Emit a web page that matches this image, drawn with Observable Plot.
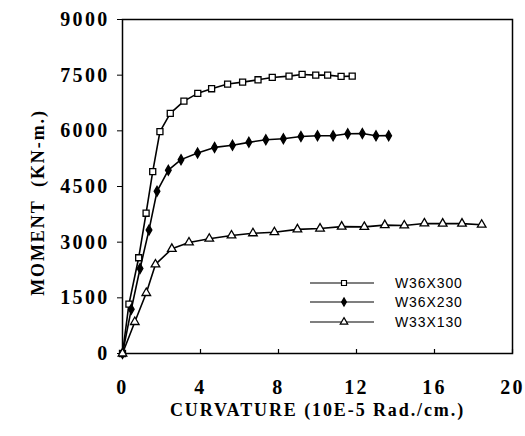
<!DOCTYPE html>
<html>
<head>
<meta charset="utf-8">
<script src="https://cdn.jsdelivr.net/npm/d3@7"></script>
<script src="https://cdn.jsdelivr.net/npm/@observablehq/plot@0.6"></script>
<style>
  body { margin: 0; background: #fff; }
  #wrap { position: relative; width: 525px; height: 436px; }
  #wrap svg text { font-family: "Liberation Serif", "Times New Roman", serif; font-weight: bold; fill: #000; }
  g[aria-label="x-axis tick label"] text,
  g[aria-label="y-axis tick label"] text { font-size: 20px; letter-spacing: 2.3px; }
  .axis-title text { font-size: 18px; letter-spacing: 1.9px; }
  #legend { position: absolute; left: 0; top: 0; pointer-events: none; }
  #legend text { font-family: "Liberation Sans", Arial, sans-serif !important; font-weight: normal !important; font-size: 14px; letter-spacing: 0.9px; }
</style>
</head>
<body>
<div id="wrap"></div>
<script>
// Moment–curvature curves for three W-shape sections
const sections = ["W36X300", "W36X230", "W33X130"];

const curvatureW36X300 = [0, 0.33, 0.83, 1.21, 1.55, 1.92, 2.45, 3.15, 3.86, 4.57, 5.39, 6.16, 6.95, 7.68, 8.54, 9.21, 9.91, 10.52, 11.21, 11.78];
const momentW36X300   = [0, 1330, 2580, 3780, 4900, 5980, 6470, 6800, 7010, 7135, 7260, 7313, 7376, 7439, 7474, 7520, 7501, 7501, 7466, 7474];

const curvatureW36X230 = [0, 0.45, 0.9, 1.36, 1.77, 2.35, 3.0, 3.85, 4.72, 5.64, 6.48, 7.35, 8.25, 9.15, 10.0, 10.8, 11.55, 12.3, 13.0, 13.65];
const momentW36X230   = [0, 1190, 2290, 3330, 4370, 4940, 5224, 5403, 5554, 5612, 5690, 5760, 5786, 5848, 5867, 5867, 5920, 5929, 5867, 5870];

const curvatureW33X130 = [0, 0.63, 1.22, 1.69, 2.53, 3.41, 4.45, 5.59, 6.69, 7.79, 8.97, 10.13, 11.24, 12.4, 13.45, 14.45, 15.48, 16.42, 17.41, 18.42];
const momentW33X130   = [0, 849, 1630, 2400, 2820, 2992, 3094, 3180, 3240, 3268, 3345, 3367, 3420, 3411, 3460, 3450, 3505, 3500, 3500, 3470];

const xTicks = [0, 4, 8, 12, 16, 20];
const yTicks = [0, 1500, 3000, 4500, 6000, 7500, 9000];
const xLabel = "CURVATURE (10E-5 Rad./cm.)";
const yLabel = "MOMENT  (KN-m.)";

const markerStyle = {
  W36X300: {symbol: "square", fill: "white", r: 3.4},
  W36X230: {symbol: "diamond", fill: "black", r: 3.0},
  W33X130: {symbol: "triangle", fill: "white", r: 3.2}
};

const series = {
  W36X300: [curvatureW36X300, momentW36X300],
  W36X230: [curvatureW36X230, momentW36X230],
  W33X130: [curvatureW33X130, momentW33X130]
};

const rows = sections.flatMap(s => series[s][0].map((c, i) => ({section: s, curvature: c, moment: series[s][1][i]})));

const dotMarks = sections.map(s => Plot.dot(rows.filter(d => d.section === s), {
  x: "curvature", y: "moment",
  symbol: () => markerStyle[s].symbol,
  r: markerStyle[s].r,
  fill: markerStyle[s].fill,
  stroke: "black", strokeWidth: 1.3
}));

const chart = Plot.plot({
  width: 525,
  height: 436,
  marginLeft: 122,
  marginRight: 13,
  marginTop: 19,
  marginBottom: 83,
  x: {domain: [0, 20], label: null},
  y: {domain: [0, 9000], label: null},
  symbol: {type: "identity"},
  marks: [
    Plot.frame({stroke: "black", strokeWidth: 1.5}),
    Plot.axisX({ticks: xTicks, tickSize: 0, tickPadding: 26, label: null, tickFormat: d => String(d)}),
    // short inward ticks along the curvature axis
    Plot.ruleX(xTicks, {x: d => d, insetTop: 330, stroke: "black", strokeWidth: 1.2}),
    Plot.axisY({ticks: yTicks, tickSize: 5, tickPadding: 8, label: null, tickFormat: d => String(d)}),
    // axis titles
    Plot.text([xLabel], {frameAnchor: "bottom", dy: 62, text: d => d, textAnchor: "middle", className: "axis-title"}),
    Plot.text([yLabel], {frameAnchor: "left", dx: -84, dy: 16, rotate: -90, text: d => d, textAnchor: "middle", className: "axis-title"}),
    Plot.line(rows, {x: "curvature", y: "moment", z: "section", stroke: "black", strokeWidth: 1.6}),
    ...dotMarks
  ]
});

const wrap = document.getElementById("wrap");
wrap.appendChild(chart);

// Legend: line sample with marker, followed by the section name
const legend = d3.select(wrap).append("svg")
  .attr("id", "legend").attr("width", 525).attr("height", 436);
const legendRowsY = [283, 302, 322];
const symbolPath = {
  W36X300: d3.symbol(d3.symbolSquare, Math.PI * 2.8 * 2.8)(),
  W36X230: d3.symbol(d3.symbolDiamond, Math.PI * 2.5 * 2.5)(),
  W33X130: d3.symbol(d3.symbolTriangle, Math.PI * 2.8 * 2.8)()
};
sections.forEach((s, i) => {
  const g = legend.append("g").attr("transform", `translate(0,${legendRowsY[i]})`);
  g.append("line").attr("x1", 310).attr("x2", 374).attr("stroke", "black").attr("stroke-width", 1.2);
  g.append("path").attr("d", symbolPath[s]).attr("transform", "translate(344,0)")
    .attr("fill", markerStyle[s].fill).attr("stroke", "black").attr("stroke-width", 1.2);
  g.append("text").attr("x", 395).attr("dy", "0.35em").text(s);
});
</script>
</body>
</html>
